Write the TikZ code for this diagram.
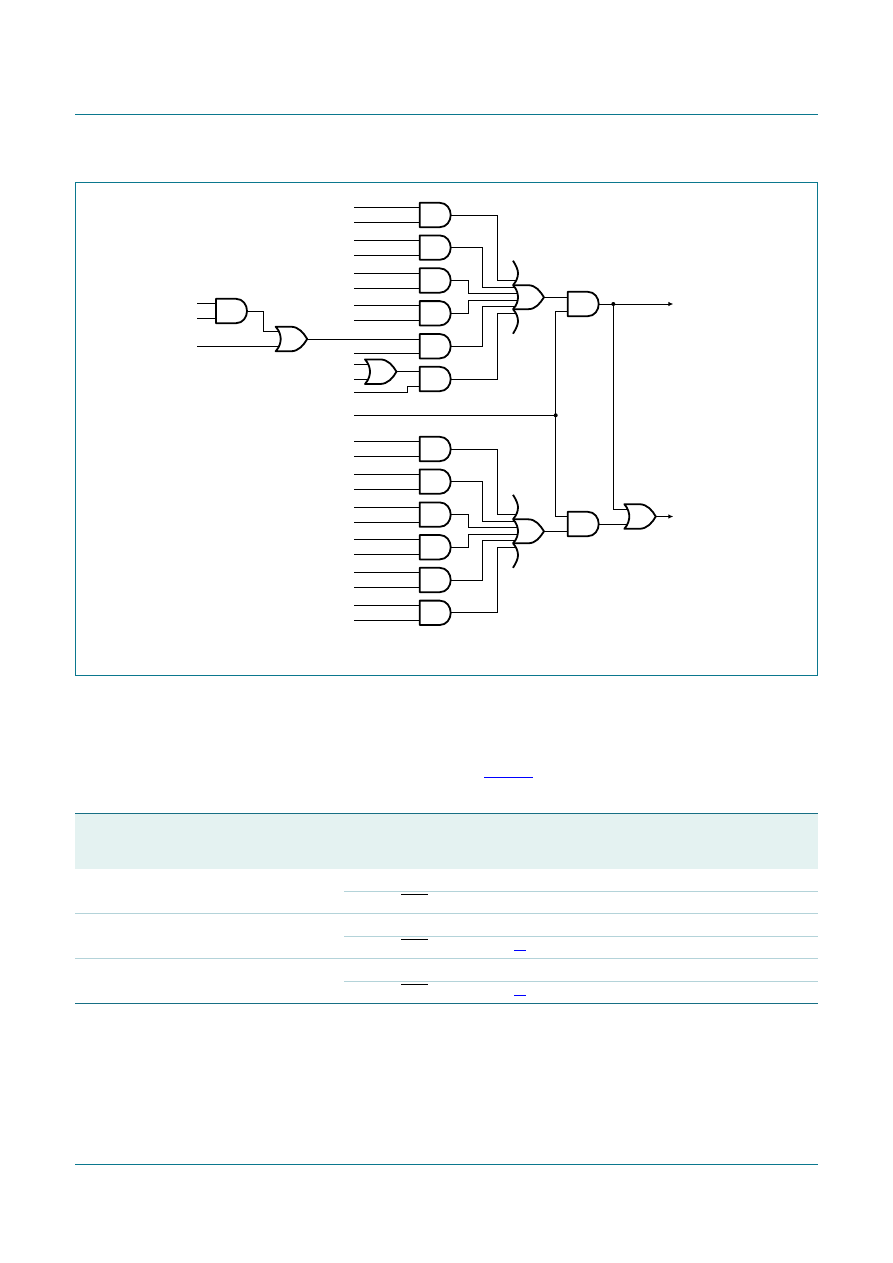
\documentclass[tikz,border=0pt]{standalone}
\usetikzlibrary{arrows.meta}
\definecolor{frameteal}{HTML}{0B788E}
\definecolor{tablerule}{HTML}{176F84}
\definecolor{tablelight}{HTML}{B4D3D9}
\definecolor{tableshade}{HTML}{E4F2F1}
\tikzset{
  gate/.style={draw=black,line width=1.8pt,line join=round,fill=none},
  wire/.style={draw=black,line width=0.9pt},
  outwire/.style={wire,-{Latex[length=5pt,width=4.5pt]}},
  junction/.style={circle,fill=black,inner sep=0pt,minimum size=4pt},
  teal rule/.style={draw=frameteal,line width=1.1pt},
  dark rule/.style={draw=tablerule,line width=1.1pt},
  light rule/.style={draw=tablelight,line width=1.1pt},
  overbar/.style={draw=black,line width=1pt},
  linkbar/.style={draw=blue,line width=1pt},
  andg/.pic={
    \path[gate] (0,-12.2) -- (20,-12.2) .. controls (27,-12.2) and (31,-6) .. (31,0)
      .. controls (31,6) and (27,12.2) .. (20,12.2) -- (0,12.2) -- cycle;
    \coordinate (-a) at (0,-7.5);
    \coordinate (-b) at (0,7.5);
    \coordinate (-o) at (31,0);
  },
  org/.pic={
    \path[gate] (0,-12.3) .. controls (4,-8) and (5,-3) .. (5,0) .. controls (5,3) and (4,8) .. (0,12.3)
      -- (15,12.3) .. controls (23,12.3) and (28,6) .. (31.5,0)
      .. controls (28,-6) and (23,-12.3) .. (15,-12.3) -- cycle;
    \coordinate (-a) at (3.8,-7.5);
    \coordinate (-b) at (3.8,7.5);
    \coordinate (-o) at (31.5,0);
  },
  bigorg/.pic={
    \path[gate] (0,-36.5) .. controls (3.5,-31) and (5,-27) .. (5,-24)
      .. controls (5,-20) and (3.5,-16) .. (0,-12)
      .. controls (4,-8) and (5,-3) .. (5,0) .. controls (5,3) and (4,8) .. (0,12)
      .. controls (3.5,16) and (5,20) .. (5,24)
      .. controls (5,27) and (3.5,31) .. (0,36.5);
    \path[gate] (0,-12) -- (15,-12) .. controls (23,-12) and (27,-6) .. (31,0)
      .. controls (27,6) and (23,12) .. (15,12) -- (0,12);
    \coordinate (-i1) at (3.5,-17);
    \coordinate (-i2) at (3.2,-10);
    \coordinate (-i3) at (4.8,-4);
    \coordinate (-i4) at (4.8,3);
    \coordinate (-i5) at (3.2,9);
    \coordinate (-i6) at (3.5,16);
    \coordinate (-o) at (31,0);
  }
}
\begin{document}
\begin{tikzpicture}[x=1pt,y=-1pt]
\useasboundingbox (0,0) rectangle (892,1263);
% page furniture
\coordinate (ruleL) at (75,114.4);
\coordinate (ruleR) at (817.8,114.4);
\draw[teal rule] (ruleL) -- (ruleR);
\coordinate (footL) at (75,1164.4);
\coordinate (footR) at (817.8,1164.4);
\draw[teal rule] (footL) -- (footR);
\draw[teal rule] (75.5,182.4) rectangle (817.4,675.4);

% input reference lines
\coordinate (inL) at (354,0);
\coordinate (inFar) at (197,0);

% upper AND row
\pic (u1) at (419.7,215) {andg};
\pic (u2) at (419.7,247.6) {andg};
\pic (u3) at (419.7,280.5) {andg};
\pic (u4) at (419.7,313.3) {andg};
\pic (u5) at (419.7,346.2) {andg};
\pic (u6) at (419.7,379) {andg};
% lower AND row
\pic (l1) at (419.7,449) {andg};
\pic (l2) at (419.7,481.6) {andg};
\pic (l3) at (419.7,514.6) {andg};
\pic (l4) at (419.7,547.2) {andg};
\pic (l5) at (419.7,580) {andg};
\pic (l6) at (419.7,612.8) {andg};
% others
\pic (f1) at (216,311) {andg};
\pic (f2) at (275.7,339) {org};
\pic (s1) at (365,371.7) {org};
\pic (bu) at (513,297.2) {bigorg};
\pic (bl) at (513,531.3) {bigorg};
\pic (a7) at (567.7,304) {andg};
\pic (a8) at (567.7,524) {andg};
\pic (x1) at (624.3,516.5) {org};

% plain inputs
\foreach \g in {u1-a,u1-b,u2-a,u2-b,u3-a,u3-b,u4-a,u4-b,u5-b,
  l1-a,l1-b,l2-a,l2-b,l3-a,l3-b,l4-a,l4-b,l5-a,l5-b,l6-a,l6-b,s1-a,s1-b}
  \draw[wire] (\g -| inL) -- (\g);
\foreach \g in {f1-a,f1-b,f2-b}
  \draw[wire] (\g -| inFar) -- (\g);

% first stage
\draw[wire] (f1-o) -- ++(16.5,0) |- (f2-a);
\draw[wire] (f2-o) -- (f2-o -| u5-a);
\draw[wire] (s1-o) -- (s1-o -| u6-a);
\coordinate (u6in) at (354,392);
\draw[wire] (u6in) -- (407.7,392) |- (u6-b);

% upper bus
\draw[wire] (u1-o) -| (497.3,280.3) -- (497.3,280.3 -| bu-i1);
\draw[wire] (u2-o) -| (482.7,287.3) -- (482.7,287.3 -| bu-i2);
\draw[wire] (u3-o) -| (468.3,293.3) -- (468.3,293.3 -| bu-i3);
\draw[wire] (u4-o) -| (468.3,300.3) -- (468.3,300.3 -| bu-i4);
\draw[wire] (u5-o) -| (482.7,306.3) -- (482.7,306.3 -| bu-i5);
\draw[wire] (u6-o) -| (497.3,313.3) -- (497.3,313.3 -| bu-i6);
% lower bus
\draw[wire] (l1-o) -| (497.3,514.3) -- (497.3,514.3 -| bl-i1);
\draw[wire] (l2-o) -| (482.7,521) -- (482.7,521 -| bl-i2);
\draw[wire] (l3-o) -| (468.3,527.3) -- (468.3,527.3 -| bl-i3);
\draw[wire] (l4-o) -| (468.3,534.3) -- (468.3,534.3 -| bl-i4);
\draw[wire] (l5-o) -| (482.7,540.3) -- (482.7,540.3 -| bl-i5);
\draw[wire] (l6-o) -| (497.3,547.3) -- (497.3,547.3 -| bl-i6);

% final stage
\draw[wire] (bu-o) -- (bu-o -| a7-a);
\draw[wire] (bl-o) -- (bl-o -| a8-b);
\node[junction] (j1) at (555.7,415.3) {};
\node[junction] (j2) at (613.3,304) {};
\draw[wire] (j1 -| inL) -- (j1.center);
\draw[wire] (a7-b) -| (j1.center);
\draw[wire] (j1.center) |- (a8-a);
\coordinate (out1) at (673.3,304);
\coordinate (out2) at (673.3,516.5);
\draw[wire] (a7-o) -- (j2.center);
\draw[outwire] (j2.center) -- (out1);
\draw[wire] (j2.center) |- (x1-a);
\draw[wire] (a8-o) -- (a8-o -| x1-b);
\draw[outwire] (x1-o) -- (out2);

% table
\fill[tableshade] (75,813.5) rectangle (817.8,869);
\draw[dark rule] (75,813.4) -- (817.8,813.4);
\draw[light rule] (344,891.6) -- (817.8,891.6);
\draw[light rule] (75,913.4) -- (817.8,913.4);
\draw[light rule] (344,936.4) -- (817.8,936.4);
\draw[light rule] (75,958.4) -- (817.8,958.4);
\draw[light rule] (344,981.4) -- (817.8,981.4);
\draw[dark rule] (75,1003.4) -- (817.8,1003.4);
\draw[overbar] (401,894.3) -- (428,894.3);
\draw[overbar] (401,939.3) -- (428,939.3);
\draw[overbar] (401,984.3) -- (428,984.3);
\draw[linkbar] (484,777.3) -- (533,777.3);
\draw[linkbar] (514,950) -- (526,950);
\draw[linkbar] (514,995) -- (526,995);
\end{tikzpicture}
\end{document}
